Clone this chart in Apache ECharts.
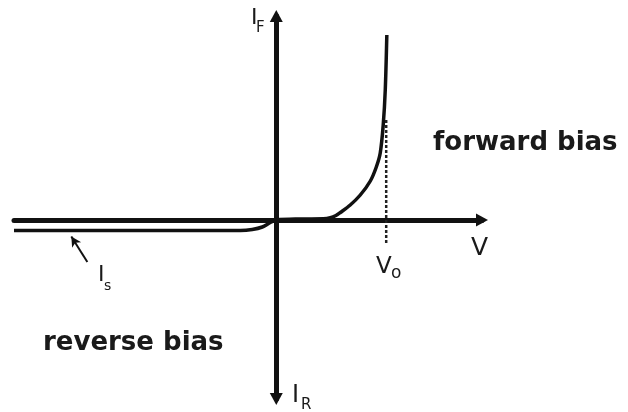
<!DOCTYPE html>
<html>
<head>
<meta charset="utf-8">
<script src="https://cdn.jsdelivr.net/npm/echarts/dist/echarts.min.js"></script>
<style>
    html, body { margin: 0; padding: 0; background: #fff; }
    #diode { width: 628px; height: 412px; }
</style>
</head>
<body>
<div id="diode"></div>
<script>
// diode characteristic, V in volts, I in mA (sketch values)
var voltage = [-1.67, -0.229, -0.153, -0.089, -0.038, 0, 0.153, 0.30, 0.344, 0.38, 0.408, 0.471, 0.535, 0.599, 0.637, 0.662, 0.681, 0.694, 0.704];
var current = [-1.05, -1.05, -0.95, -0.7, -0.25, 0, 0.1, 0.12, 0.22, 0.45, 0.75, 1.5, 2.5, 3.9, 5.3, 6.7, 9.5, 13, 18.5];
var kneeVoltage = 0.7;
var kneeDash = [10, -2.3];
var isPointer = [[-1.203, -4.2], [-1.305, -1.65]];

(function () {
    var chart = echarts.init(document.getElementById('diode'));
    var ink = '#111';
    var curve = [];
    for (var i = 0; i < voltage.length; i++) {
        curve.push([voltage[i], current[i]]);
    }

    // small helper for the letters round the axes
    function label(text, x, y, size, weight) {
        return {
            type: 'text',
            x: x,
            y: y,
            style: {
                text: text,
                fill: '#1a1a1a',
                font: (weight || 'normal') + ' ' + size + 'px "DejaVu Sans"',
                textAlign: 'left',
                textVerticalAlign: 'middle'
            }
        };
    }

    var option = {
        backgroundColor: '#fff',
        animation: false,
        grid: {
            left: 14,
            width: 468,
            top: 16,
            height: 383
        },
        xAxis: {
            type: 'value',
            min: -1.67,
            max: 1.31,
            axisLine: {
                onZero: true,
                symbol: ['none', 'triangle'],
                symbolSize: [13, 12],
                lineStyle: { color: ink, width: 5 }
            },
            axisTick: { show: false },
            axisLabel: { show: false },
            splitLine: { show: false }
        },
        yAxis: {
            type: 'value',
            min: -17.9,
            max: 20.4,
            axisLine: {
                onZero: true,
                symbol: ['triangle', 'triangle'],
                symbolSize: [13, 12],
                lineStyle: { color: ink, width: 5 }
            },
            axisTick: { show: false },
            axisLabel: { show: false },
            splitLine: { show: false }
        },
        series: [{
            name: 'diode',
            type: 'line',
            data: curve,
            smooth: 0.3,
            showSymbol: false,
            lineStyle: { color: ink, width: 3.5 },
            markLine: {
                silent: true,
                symbol: ['none', 'arrow'],
                symbolSize: [8, 10],
                label: { show: false },
                lineStyle: { color: ink, width: 2, type: 'solid' },
                data: [[
                    { coord: isPointer[0] },
                    { coord: isPointer[1] }
                ]]
            }
        }, {
            name: 'knee',
            type: 'line',
            data: [[kneeVoltage, kneeDash[0]], [kneeVoltage, kneeDash[1]]],
            showSymbol: false,
            lineStyle: { color: '#222', width: 2.5, type: [3, 2] }
        }],
        graphic: [
            label('I', 251, 18, 22),
            label('F', 256, 28, 15),
            label('I', 292, 396, 24),
            label('R', 301, 405, 15),
            label('V', 471, 248, 25),
            label('V', 376, 267, 23),
            label('o', 391, 274, 17),
            label('I', 98, 275, 22),
            label('s', 104, 286, 14),
            label('forward bias', 433, 143, 26, 'bold'),
            label('reverse bias', 43, 343, 26, 'bold')
        ]
    };
    chart.setOption(option);
})();
</script>
</body>
</html>
